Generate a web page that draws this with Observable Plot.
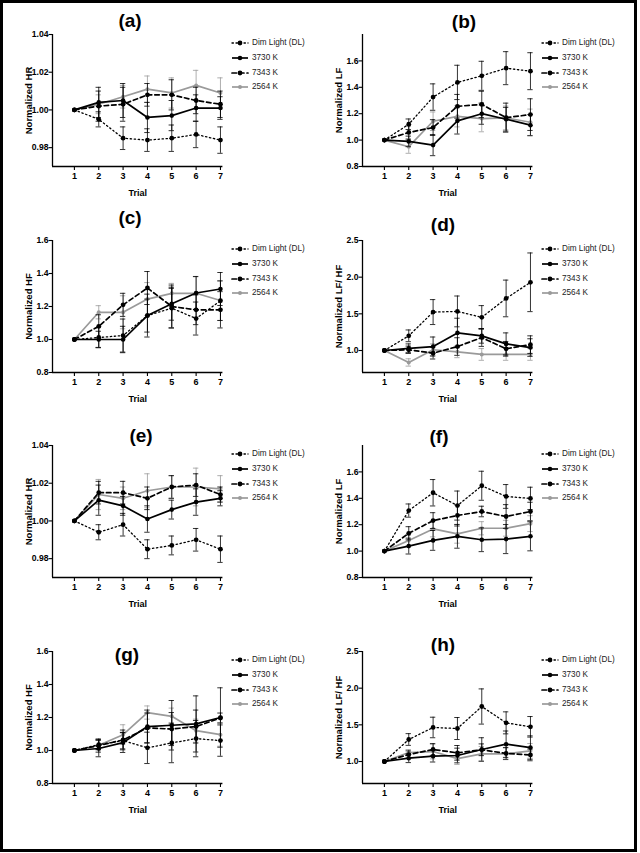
<!DOCTYPE html>
<html>
<head>
<meta charset="utf-8">
<script src="https://cdn.jsdelivr.net/npm/d3@7"></script>
<script src="https://cdn.jsdelivr.net/npm/@observablehq/plot@0.6"></script>
<style>
  html, body { margin: 0; padding: 0; background: #fff; }
  body { font-family: "Liberation Sans", Arial, sans-serif; color: #000; }
  #page { position: relative; width: 640px; height: 853px; overflow: hidden; }
  #border { position: absolute; left: 0; top: 0; width: 637px; height: 852px; border: 3px solid #000; box-sizing: border-box; pointer-events: none; }
  .panel { position: absolute; width: 310px; height: 206px; }
  .panel svg { position: absolute; left: 0; top: 0; overflow: visible; }
  .ptitle { position: absolute; font-weight: bold; font-size: 19px; transform: translate(-50%, -50%); white-space: nowrap; }
  .legrow { position: absolute; left: 231px; height: 10px; font-size: 8.2px; line-height: 10px; white-space: nowrap; }
  .legrow svg { position: absolute; left: 0; top: 0; }
  .legrow span { position: absolute; left: 21px; top: 0; color: #222; }
</style>
</head>
<body>
<div id="page"><div id="border"></div></div>
<script>
// ---------------- data ----------------
const trials = [1, 2, 3, 4, 5, 6, 7];
const seriesNames = ["Dim Light (DL)", "3730 K", "7343 K", "2564 K"];
const panelLetters = ["(a)", "(b)", "(c)", "(d)", "(e)", "(f)", "(g)", "(h)"];
const yLabels = ["Normalized HR", "Normalized LF", "Normalized HF", "Normalized LF/ HF",
                 "Normalized HR", "Normalized LF", "Normalized HF", "Normalized LF/ HF"];
const hrTicks = [0.98, 1.00, 1.02, 1.04];
const lfTicks = [0.8, 1.0, 1.2, 1.4, 1.6];
const hfTicks = [0.8, 1.0, 1.2, 1.4, 1.6];
const ratioTicks = [1.0, 1.5, 2.0, 2.5];

// means per panel: rows = [DL, 3730 K, 7343 K, 2564 K]
const meanA = [
  [1.000, 0.995, 0.985, 0.984, 0.985, 0.987, 0.984],
  [1.000, 1.004, 1.005, 0.996, 0.997, 1.001, 1.001],
  [1.000, 1.002, 1.003, 1.008, 1.008, 1.005, 1.003],
  [1.000, 1.003, 1.007, 1.011, 1.009, 1.013, 1.009]];
const errA = [
  [0, 0.004, 0.006, 0.006, 0.007, 0.007, 0.007],
  [0, 0.008, 0.009, 0.008, 0.008, 0.007, 0.006],
  [0, 0.008, 0.009, 0.006, 0.008, 0.007, 0.007],
  [0, 0.005, 0.006, 0.007, 0.008, 0.008, 0.008]];

const meanB = [
  [1.00, 1.12, 1.326, 1.437, 1.487, 1.545, 1.522],
  [1.00, 0.99, 0.962, 1.146, 1.200, 1.158, 1.113],
  [1.00, 1.058, 1.095, 1.256, 1.270, 1.170, 1.193],
  [1.00, 0.950, 1.143, 1.180, 1.163, 1.168, 1.135]];
const errB = [
  [0, 0.04, 0.10, 0.13, 0.11, 0.125, 0.14],
  [0, 0.04, 0.08, 0.10, 0.08, 0.09, 0.08],
  [0, 0.05, 0.06, 0.09, 0.10, 0.11, 0.12],
  [0, 0.05, 0.07, 0.08, 0.10, 0.09, 0.10]];

const meanC = [
  [1.00, 1.012, 1.024, 1.145, 1.190, 1.127, 1.235],
  [1.00, 1.000, 1.000, 1.145, 1.217, 1.282, 1.306],
  [1.00, 1.080, 1.210, 1.312, 1.200, 1.180, 1.180],
  [1.00, 1.165, 1.165, 1.245, 1.280, 1.280, 1.236]];
const errC = [
  [0, 0.06, 0.10, 0.10, 0.12, 0.10, 0.12],
  [0, 0.05, 0.08, 0.13, 0.10, 0.10, 0.10],
  [0, 0.07, 0.07, 0.10, 0.13, 0.09, 0.11],
  [0, 0.04, 0.10, 0.10, 0.06, 0.10, 0.12]];

const meanD = [
  [1.00, 1.20, 1.524, 1.533, 1.452, 1.71, 1.93],
  [1.00, 1.03, 1.054, 1.24, 1.20, 1.09, 1.04],
  [1.00, 1.01, 0.964, 1.054, 1.176, 1.023, 1.08],
  [1.00, 0.837, 1.01, 0.982, 0.946, 0.946, 0.946]];
const errD = [
  [0, 0.08, 0.17, 0.21, 0.16, 0.25, 0.40],
  [0, 0.06, 0.13, 0.20, 0.10, 0.15, 0.12],
  [0, 0.05, 0.08, 0.12, 0.12, 0.10, 0.12],
  [0, 0.05, 0.08, 0.08, 0.08, 0.08, 0.08]];

const meanE = [
  [1.000, 0.994, 0.998, 0.985, 0.987, 0.990, 0.985],
  [1.000, 1.011, 1.008, 1.001, 1.006, 1.010, 1.012],
  [1.000, 1.015, 1.015, 1.012, 1.018, 1.019, 1.014],
  [1.000, 1.014, 1.012, 1.016, 1.018, 1.018, 1.017]];
const errE = [
  [0, 0.004, 0.006, 0.005, 0.005, 0.006, 0.007],
  [0, 0.008, 0.005, 0.007, 0.005, 0.007, 0.004],
  [0, 0.006, 0.006, 0.006, 0.006, 0.006, 0.004],
  [0, 0.008, 0.006, 0.009, 0.006, 0.010, 0.007]];

const meanF = [
  [1.00, 1.307, 1.442, 1.345, 1.495, 1.414, 1.399],
  [1.00, 1.038, 1.081, 1.112, 1.086, 1.091, 1.112],
  [1.00, 1.135, 1.231, 1.270, 1.300, 1.262, 1.300],
  [1.00, 1.080, 1.168, 1.130, 1.173, 1.173, 1.208]];
const errF = [
  [0, 0.05, 0.10, 0.11, 0.11, 0.09, 0.085],
  [0, 0.06, 0.075, 0.09, 0.09, 0.11, 0.11],
  [0, 0.05, 0.06, 0.08, 0.04, 0.09, 0.07],
  [0, 0.04, 0.06, 0.07, 0.05, 0.06, 0.06]];

const meanG = [
  [1.00, 1.036, 1.060, 1.016, 1.046, 1.072, 1.060],
  [1.00, 1.012, 1.048, 1.145, 1.153, 1.161, 1.200],
  [1.00, 1.030, 1.064, 1.137, 1.130, 1.145, 1.197],
  [1.00, 1.032, 1.096, 1.230, 1.207, 1.120, 1.096]];
const errG = [
  [0, 0.03, 0.05, 0.095, 0.12, 0.11, 0.095],
  [0, 0.05, 0.06, 0.10, 0.15, 0.17, 0.18],
  [0, 0.04, 0.06, 0.09, 0.10, 0.10, 0.03],
  [0, 0.03, 0.06, 0.04, 0.05, 0.07, 0.07]];

const meanH = [
  [1.00, 1.30, 1.464, 1.45, 1.75, 1.527, 1.473],
  [1.00, 1.045, 1.073, 1.082, 1.164, 1.236, 1.19],
  [1.00, 1.095, 1.164, 1.118, 1.16, 1.11, 1.09],
  [1.00, 1.123, 1.136, 1.04, 1.105, 1.105, 1.145]];
const errH = [
  [0, 0.08, 0.14, 0.15, 0.24, 0.15, 0.14],
  [0, 0.06, 0.08, 0.10, 0.16, 0.18, 0.16],
  [0, 0.05, 0.08, 0.10, 0.08, 0.08, 0.08],
  [0, 0.04, 0.10, 0.08, 0.10, 0.08, 0.10]];

// ---------------- styling / layout ----------------
const seriesStyle = [
  {stroke: "#000", dash: "1.4,2.6", width: 1.3, r: 2.4},
  {stroke: "#000", dash: null, width: 1.7, r: 2.3},
  {stroke: "#000", dash: "4.5,3", width: 1.7, r: 2.4},
  {stroke: "#9a9a9a", dash: null, width: 1.7, r: 2.0}
];
const drawOrder = [3, 0, 2, 1];

const panels = [
  {mean: meanA, err: errA, domain: [0.97, 1.04], ticks: hrTicks, fmt: ".2f", left: 0,   top: 0,   tx: 130, ty: 21},
  {mean: meanB, err: errB, domain: [0.8, 1.8],   ticks: lfTicks, fmt: ".1f", left: 310, top: 0,   tx: 154, ty: 22},
  {mean: meanC, err: errC, domain: [0.8, 1.6],   ticks: hfTicks, fmt: ".1f", left: 0,   top: 206, tx: 130, ty: 12},
  {mean: meanD, err: errD, domain: [0.7, 2.5],   ticks: ratioTicks, fmt: ".1f", left: 310, top: 206, tx: 133, ty: 19},
  {mean: meanE, err: errE, domain: [0.97, 1.04], ticks: hrTicks, fmt: ".2f", left: 0,   top: 411, tx: 141, ty: 25},
  {mean: meanF, err: errF, domain: [0.8, 1.8],   ticks: lfTicks, fmt: ".1f", left: 310, top: 411, tx: 129, ty: 26},
  {mean: meanG, err: errG, domain: [0.8, 1.6],   ticks: hfTicks, fmt: ".1f", left: 0,   top: 617, tx: 127, ty: 38},
  {mean: meanH, err: errH, domain: [0.7, 2.5],   ticks: ratioTicks, fmt: ".1f", left: 310, top: 617, tx: 133, ty: 28}
];

const xDomain = [0.1, 7.1];
const page = document.getElementById("page");

panels.forEach((cfg, pi) => {
  const rows = [];
  seriesNames.forEach((s, si) => trials.forEach((t, ti) => {
    rows.push({trial: t, series: si, v: cfg.mean[si][ti], e: cfg.err[si][ti]});
  }));

  const marks = [];
  marks.push(Plot.ruleY([cfg.domain[0]], {stroke: "#000", strokeWidth: 1.3}));
  marks.push(Plot.ruleX([xDomain[0]], {stroke: "#000", strokeWidth: 1.3}));
  marks.push(Plot.axisY({ticks: cfg.ticks, tickFormat: d3.format(cfg.fmt), tickSize: 3.5, tickPadding: 0.5,
    fontWeight: "bold", fontSize: 8.6, label: null, strokeWidth: 1.1}));
  marks.push(Plot.axisX({ticks: trials, tickFormat: d => String(d), tickSize: 4, tickPadding: 2,
    fontWeight: "bold", fontSize: 9, label: null, strokeWidth: 1.1}));

  drawOrder.forEach(si => {
    const st = seriesStyle[si];
    const data = rows.filter(d => d.series === si);
    const ebar = data.filter(d => d.e > 0);
    marks.push(Plot.ruleX(ebar, {x: "trial", y1: d => d.v - d.e, y2: d => d.v + d.e, stroke: st.stroke, strokeWidth: 0.8}));
    marks.push(Plot.ruleY(ebar, {y: d => d.v + d.e, x1: d => d.trial - 0.11, x2: d => d.trial + 0.11, stroke: st.stroke, strokeWidth: 0.8}));
    marks.push(Plot.ruleY(ebar, {y: d => d.v - d.e, x1: d => d.trial - 0.11, x2: d => d.trial + 0.11, stroke: st.stroke, strokeWidth: 0.8}));
    marks.push(Plot.line(data, {x: "trial", y: "v", stroke: st.stroke, strokeWidth: st.width,
      strokeDasharray: st.dash || undefined, strokeLinecap: st.dash ? "round" : "butt"}));
    marks.push(Plot.dot(data, {x: "trial", y: "v", r: st.r, fill: st.stroke, stroke: "none"}));
  });

  marks.push(Plot.text([yLabels[pi]], {frameAnchor: "left", textAnchor: "middle", lineAnchor: "middle",
    rotate: -90, dx: -24, fontSize: 9.5, fontWeight: "bold"}));
  marks.push(Plot.text(["Trial"], {frameAnchor: "bottom", textAnchor: "middle", lineAnchor: "middle",
    dy: 27, fontSize: 9, fontWeight: "bold"}));

  const svg = Plot.plot({
    width: 310, height: 206,
    marginLeft: 52, marginRight: 87.6, marginTop: 34, marginBottom: 40,
    x: {domain: xDomain},
    y: {domain: cfg.domain},
    style: {fontFamily: "'Liberation Sans', Arial, sans-serif", fontSize: "9px", color: "#000", background: "transparent", overflow: "visible"},
    marks
  });

  const div = document.createElement("div");
  div.className = "panel";
  div.style.left = cfg.left + "px";
  div.style.top = cfg.top + "px";
  div.appendChild(svg);

  const title = document.createElement("div");
  title.className = "ptitle";
  title.textContent = panelLetters[pi];
  title.style.left = cfg.tx + "px";
  title.style.top = cfg.ty + "px";
  div.appendChild(title);

  seriesNames.forEach((name, si) => {
    const st = seriesStyle[si];
    const row = document.createElement("div");
    row.className = "legrow";
    row.style.top = (38 + si * 14.8) + "px";
    const ns = "http://www.w3.org/2000/svg";
    const s = document.createElementNS(ns, "svg");
    s.setAttribute("width", 18); s.setAttribute("height", 10);
    const ln = document.createElementNS(ns, "line");
    ln.setAttribute("x1", 1); ln.setAttribute("x2", 17); ln.setAttribute("y1", 5); ln.setAttribute("y2", 5);
    ln.setAttribute("stroke", st.stroke); ln.setAttribute("stroke-width", st.width);
    if (st.dash) { ln.setAttribute("stroke-dasharray", st.dash); ln.setAttribute("stroke-linecap", "round"); }
    s.appendChild(ln);
    const c = document.createElementNS(ns, "circle");
    c.setAttribute("cx", 9); c.setAttribute("cy", 5); c.setAttribute("r", st.r); c.setAttribute("fill", st.stroke);
    s.appendChild(c);
    row.appendChild(s);
    const sp = document.createElement("span");
    sp.textContent = name;
    row.appendChild(sp);
    div.appendChild(row);
  });

  page.appendChild(div);
});
</script>
</body>
</html>
